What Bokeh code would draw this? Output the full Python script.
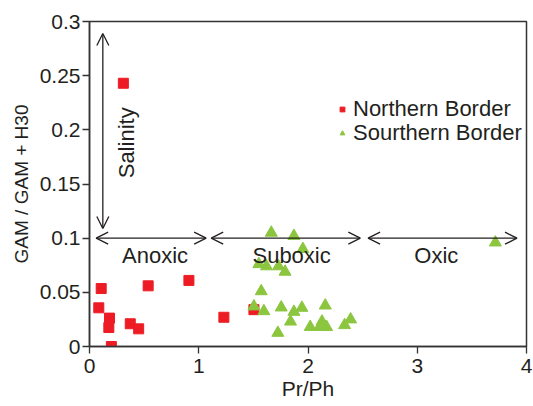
import math
from bokeh.plotting import figure
from bokeh.models import (Arrow, OpenHead, Label, Legend, LegendItem, FixedTicker, Range1d)
from bokeh.embed import file_html
from bokeh.resources import INLINE

# ---- data ----
north_x = [0.31, 0.107, 0.085, 0.183, 0.177, 0.20, 0.373, 0.45, 0.537, 0.91, 1.23, 1.505]
north_y = [0.243, 0.0535, 0.0357, 0.0262, 0.0175, 0.0, 0.021, 0.0163, 0.056, 0.061, 0.027, 0.034]

south_x = [1.664, 1.871, 1.953, 1.55, 1.62, 1.73, 1.79, 1.572, 1.505, 1.596, 1.755,
           1.871, 1.944, 1.84, 1.724, 2.02, 2.158, 2.128, 2.106, 2.17, 2.335, 2.39, 3.715]
south_y = [0.105, 0.102, 0.090, 0.076, 0.074, 0.074, 0.069, 0.051, 0.037, 0.0326, 0.036,
           0.032, 0.0357, 0.023, 0.0126, 0.018, 0.0378, 0.023, 0.018, 0.018, 0.0197, 0.025, 0.096]

x_ticks = [0, 1, 2, 3, 4]
x_tick_labels = ["0", "1", "2", "3", "4"]
y_ticks = [0, 0.05, 0.1, 0.15, 0.2, 0.25, 0.3]
y_tick_labels = ["0", "0.05", "0.1", "0.15", "0.2", "0.25", "0.3"]

# regime arrows (x ranges at the 0.1 level) and their labels
regime_names = ["Anoxic", "Suboxic", "Oxic"]
regime_start = [0.061, 1.114, 2.55]
regime_end = [1.068, 2.479, 3.913]
regime_label_x = [0.60, 1.85, 3.175]
regime_level = 0.1
regime_label_y = 0.084

salinity_x = 0.122
salinity_range = [0.109, 0.289]
salinity_label = "Salinity"

RED = "#ED1C24"
GREEN = "#8CC63F"
TXT = "#231F20"
FONT = "Liberation Sans"
FS = "21px"
FS_BIG = "22px"

p = figure(width=532, height=405, output_backend="svg", toolbar_location=None,
           x_range=Range1d(0, 4), y_range=Range1d(0, 0.3),
           min_border_left=89, min_border_right=6, min_border_top=21, min_border_bottom=59)
p.background_fill_color = "white"
p.border_fill_color = "white"
p.xgrid.visible = False
p.ygrid.visible = False
p.outline_line_color = "#333333"
p.outline_line_width = 1.5

for ax in (p.xaxis[0], p.yaxis[0]):
    ax.axis_line_color = "#333333"
    ax.axis_line_width = 1.5
    ax.major_tick_line_color = "#333333"
    ax.major_tick_line_width = 1.3
    ax.major_tick_out = 7
    ax.major_tick_in = 0
    ax.minor_tick_line_color = None
    ax.major_label_text_font = FONT
    ax.major_label_text_font_size = FS
    ax.major_label_text_color = TXT
    ax.axis_label_text_font = FONT
    ax.axis_label_text_font_size = FS
    ax.axis_label_text_font_style = "normal"
    ax.axis_label_text_color = TXT

p.xaxis[0].ticker = FixedTicker(ticks=x_ticks)
p.xaxis[0].major_label_overrides = {t: l for t, l in zip(x_ticks, x_tick_labels)}
p.yaxis[0].ticker = FixedTicker(ticks=y_ticks)
p.yaxis[0].major_label_overrides = {t: l for t, l in zip(y_ticks, y_tick_labels)}
p.xaxis[0].axis_label = "Pr/Ph"
p.yaxis[0].axis_label = "GAM / GAM + H30"
p.yaxis[0].axis_label_text_font_size = "19px"
p.xaxis[0].major_label_standoff = 5
p.xaxis[0].axis_label_standoff = 1
p.yaxis[0].major_label_standoff = 2
p.yaxis[0].axis_label_standoff = 5

r_n = p.scatter(north_x, north_y, marker="square", size=10, fill_color=RED, line_color=RED)
r_s = p.scatter(south_x, south_y, marker="triangle", size=12, fill_color=GREEN, line_color=GREEN)

def head():
    return OpenHead(size=12, line_width=1.3, line_color=TXT)

for xs, xe in zip(regime_start, regime_end):
    p.add_layout(Arrow(start=head(), end=head(),
                       x_start=xs, y_start=regime_level, x_end=xe, y_end=regime_level,
                       line_width=1.3, line_color=TXT))
for name, lx in zip(regime_names, regime_label_x):
    p.add_layout(Label(x=lx, y=regime_label_y, text=name, text_align="center",
                       text_baseline="middle", text_font=FONT, text_font_size=FS_BIG,
                       text_color=TXT))

p.add_layout(Arrow(start=head(), end=head(),
                   x_start=salinity_x, y_start=salinity_range[0],
                   x_end=salinity_x, y_end=salinity_range[1],
                   line_width=1.3, line_color=TXT))
p.add_layout(Label(x=0.336, y=0.188, text=salinity_label, angle=math.pi / 2,
                   text_align="center", text_baseline="middle", text_font=FONT,
                   text_font_size=FS_BIG, text_color=TXT))

leg_kw = dict(padding=0, margin=0, spacing=0, glyph_width=12, glyph_height=12,
              label_standoff=5, label_text_font=FONT, label_text_font_size=FS_BIG,
              label_text_color=TXT, background_fill_alpha=0, border_line_color=None)
p.add_layout(Legend(items=[LegendItem(label="Northern Border", renderers=[r_n])],
                    location=(247, 224), **leg_kw))
p.add_layout(Legend(items=[LegendItem(label="Sourthern Border", renderers=[r_s])],
                    location=(247, 200), **leg_kw))

open("out.html", "w").write(file_html(p, INLINE))
